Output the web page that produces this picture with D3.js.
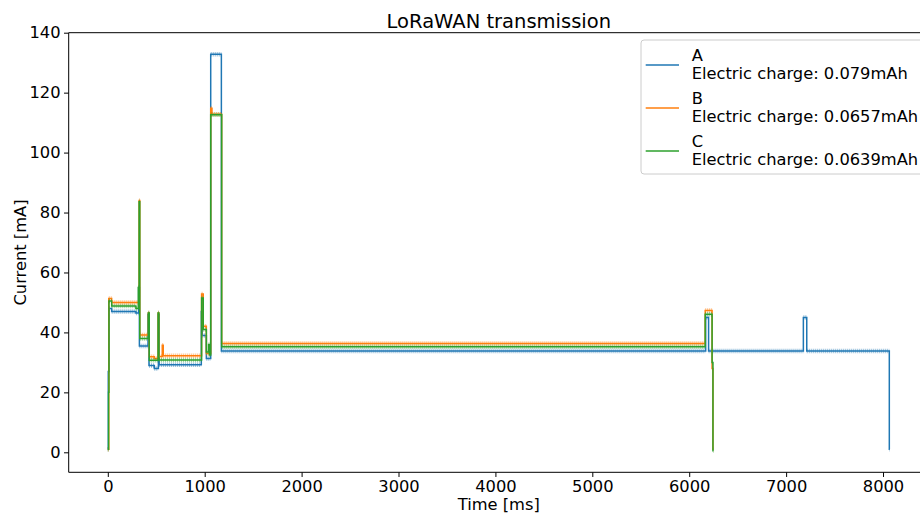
<!DOCTYPE html>
<html>
<head>
<meta charset="utf-8">
<script src="https://cdn.jsdelivr.net/npm/d3@7"></script>
<style>
  html, body { margin: 0; padding: 0; background: #fff; }
  svg { display: block; overflow: hidden; }
  text { font-family: "DejaVu Sans", sans-serif; fill: #000; }
</style>
</head>
<body>
<svg id="chart" width="920" height="516"></svg>
<script>
// ---- Data ----
const seriesNames = ["A", "B", "C"];
const chargeLabels = ["Electric charge: 0.079mAh", "Electric charge: 0.0657mAh", "Electric charge: 0.0639mAh"];
const colors = ["#1f77b4", "#ff7f0e", "#2ca02c"];

// time [ms] breakpoints and current [mA] values (step after)
const timeA = [0, 5, 12, 40, 290, 318, 326, 415, 425, 480, 522, 530, 965, 975, 1017, 1062, 1172, 6170, 6200, 7178, 7213, 8065, 8070];
const currA = [1, 27, 48, 47, 46.5, 55, 35.5, 46, 29, 28, 46, 29.2, 47, 39, 31.3, 132.8, 33.8, 45, 33.8, 45, 33.8, 1, 1];

const timeB = [0, 10, 40, 318, 323, 330, 418, 428, 480, 519, 527, 562, 572, 968, 985, 1017, 1062, 1075, 1175, 6165, 6236, 6245, 6250];
const currB = [1, 51.3, 50, 50.5, 84, 39.1, 46.5, 31.9, 31.3, 46.5, 32, 35.7, 32.2, 52.8, 42.1, 33, 114.8, 112.8, 36.3, 47.3, 28, 1, 1];

const timeC = [0, 8, 12, 40, 290, 315, 323, 330, 418, 428, 519, 527, 968, 985, 1017, 1040, 1048, 1062, 1175, 6165, 6236, 6245, 6250];
const currC = [1, 20, 50.5, 48.8, 48, 55, 83.6, 38, 46.5, 30.7, 46.5, 30.8, 51.5, 41, 33.5, 36, 32.5, 112.6, 35.2, 46.1, 30, 0.5, 0.5];

const xTicks = [0, 1000, 2000, 3000, 4000, 5000, 6000, 7000, 8000];
const yTicks = [0, 20, 40, 60, 80, 100, 120, 140];

const series = [
  { name: seriesNames[0], label: chargeLabels[0], color: colors[0], pts: timeA.map((t, i) => [t, currA[i]]) },
  { name: seriesNames[1], label: chargeLabels[1], color: colors[1], pts: timeB.map((t, i) => [t, currB[i]]) },
  { name: seriesNames[2], label: chargeLabels[2], color: colors[2], pts: timeC.map((t, i) => [t, currC[i]]) }
];

// ---- Layout ----
const svg = d3.select("#chart");
const mLeft = 68.7, mRight = 928.9, mTop = 32.7, mBottom = 472.3;

const x = d3.scaleLinear().domain([-403.5, 8473.5]).range([mLeft, mRight]);
const y = d3.scaleLinear().domain([-6.67, 140]).range([mBottom, mTop]);

// clip
svg.append("defs").append("clipPath").attr("id", "clip")
  .append("rect").attr("x", mLeft).attr("y", mTop).attr("width", mRight - mLeft).attr("height", mBottom - mTop);

const line = d3.line().x(d => x(d[0])).y(d => y(d[1])).curve(d3.curveStepAfter);

const plot = svg.append("g").attr("clip-path", "url(#clip)");
series.forEach(s => {
  // noise band on the plateaus (horizontal segments only)
  const segs = d3.pairs(s.pts);
  plot.append("g").selectAll("line").data(segs).join("line")
    .attr("x1", d => x(d[0][0])).attr("x2", d => x(d[1][0]))
    .attr("y1", d => y(d[0][1])).attr("y2", d => y(d[0][1]))
    .attr("stroke", s.color).attr("stroke-width", 4.5)
    .attr("stroke-opacity", 0.5).attr("stroke-dasharray", "1 1");
  plot.append("path").datum(s.pts)
    .attr("d", line).attr("fill", "none")
    .attr("stroke", s.color).attr("stroke-width", 1.5)
    .attr("stroke-linejoin", "miter");
});

// ---- Axes ----
const xAxis = d3.axisBottom(x).tickValues(xTicks).tickFormat(d3.format("d")).tickSize(4.67).tickPadding(3.5);
const yAxis = d3.axisLeft(y).tickValues(yTicks).tickFormat(d3.format("d")).tickSize(4.67).tickPadding(3.5);

const gx = svg.append("g").attr("transform", `translate(0,${mBottom})`).call(xAxis);
const gy = svg.append("g").attr("transform", `translate(${mLeft},0)`).call(yAxis);
[gx, gy].forEach(g => {
  g.select(".domain").remove();
  g.selectAll(".tick line").attr("stroke", "#000").attr("stroke-width", 1);
  g.selectAll(".tick text").attr("font-size", "16.3px").attr("font-family", "DejaVu Sans, sans-serif").attr("fill", "#000");
});

// spines
svg.append("line").attr("x1", mLeft).attr("x2", mLeft).attr("y1", mTop).attr("y2", mBottom).attr("stroke", "#000").attr("stroke-width", 1);
svg.append("line").attr("x1", mLeft).attr("x2", mRight).attr("y1", mBottom).attr("y2", mBottom).attr("stroke", "#000").attr("stroke-width", 1);
svg.append("line").attr("x1", mLeft).attr("x2", mRight).attr("y1", mTop).attr("y2", mTop).attr("stroke", "#000").attr("stroke-width", 1);

// titles
svg.append("text").attr("x", (mLeft + mRight) / 2).attr("y", 27.5).attr("text-anchor", "middle")
  .attr("font-size", "19.5px").text("LoRaWAN transmission");
svg.append("text").attr("x", (mLeft + mRight) / 2).attr("y", 510).attr("text-anchor", "middle")
  .attr("font-size", "16.3px").text("Time [ms]");
svg.append("text").attr("transform", `translate(25.5,${(mTop + mBottom) / 2}) rotate(-90)`).attr("text-anchor", "middle")
  .attr("font-size", "16.3px").text("Current [mA]");

// ---- Legend ----
const lg = svg.append("g");
lg.append("rect").attr("x", 641).attr("y", 40).attr("width", 300).attr("height", 134)
  .attr("rx", 3).attr("fill", "#fff").attr("fill-opacity", 0.8).attr("stroke", "#ccc").attr("stroke-width", 1);
series.forEach((s, i) => {
  const oy = i * 43;
  lg.append("line").attr("x1", 645.7).attr("x2", 679).attr("y1", 65 + oy).attr("y2", 65 + oy)
    .attr("stroke", s.color).attr("stroke-width", 1.5);
  lg.append("text").attr("x", 691.7).attr("y", 60.5 + oy).attr("font-size", "16.3px").text(s.name);
  lg.append("text").attr("x", 691.7).attr("y", 79 + oy).attr("font-size", "16.3px").text(s.label);
});
</script>
</body>
</html>
